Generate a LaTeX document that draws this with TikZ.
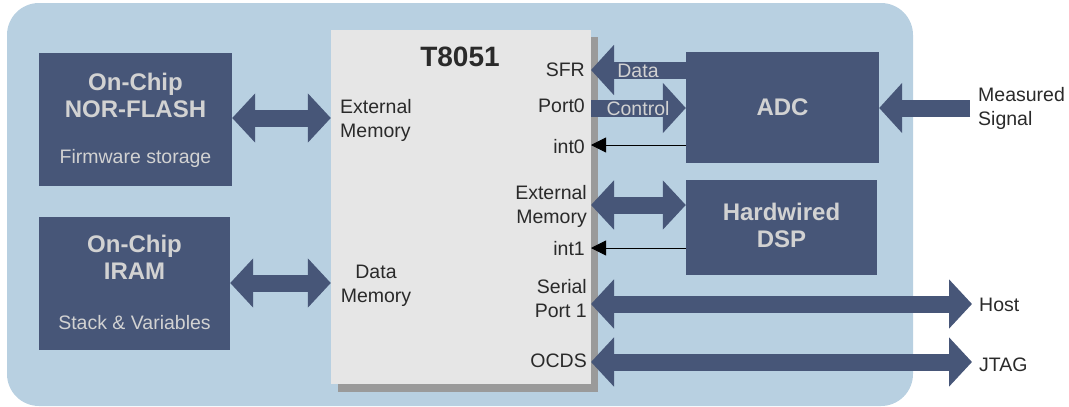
\documentclass[tikz,border=0pt]{standalone}
\usepackage{fontspec}
\setmainfont{Liberation Sans}
\usetikzlibrary{arrows.meta}
\definecolor{bgblue}{HTML}{B8D0E1}
\definecolor{navy}{HTML}{475678}
\definecolor{lightgrey}{HTML}{D2D2D2}
\definecolor{chipfill}{HTML}{E6E6E6}
\definecolor{shadowgrey}{HTML}{9A9A9A}
\definecolor{darktext}{HTML}{2A2A2A}
\tikzset{
  x=1pt, y=-1pt,
  darkbox/.style={draw=none, fill=navy, rectangle, inner sep=0pt},
  boxtitle/.style={text=lightgrey, font=\bfseries\fontsize{24}{27}\selectfont, align=center, inner sep=0pt},
  boxsub/.style={text=lightgrey, font=\fontsize{19.5}{24}\selectfont, inner sep=0pt},
  lbl/.style={text=darktext, font=\fontsize{19.5}{24}\selectfont, inner sep=0pt},
  arrlbl/.style={text=lightgrey, font=\fontsize{19.5}{24}\selectfont, inner sep=0pt},
  fatdbl/.style={draw=navy, line width=17pt, {Triangle[length=23pt,width=48pt]}-{Triangle[length=23pt,width=48pt]}},
  fatone/.style={draw=navy, line width=17pt, -{Triangle[length=23pt,width=49pt]}},
  thinarr/.style={draw=black, line width=0.9pt, -{Triangle[length=15pt,width=15pt]}},
}
\begin{document}
\begin{tikzpicture}
\useasboundingbox (0,0) rectangle (1069,407);
% background panel
\fill[bgblue, rounded corners=32pt] (7,3) rectangle (913,406);
% T8051 chip with shadow
\fill[shadowgrey] (338,37) rectangle (598,392);
\node[rectangle, fill=chipfill, inner sep=0pt, minimum width=260pt, minimum height=354pt] (chip) at (461,207) {};
\node[lbl, font=\bfseries\fontsize{28}{32}\selectfont, anchor=base] (title) at (460,66) {T8051};
% left blocks
\node[darkbox, minimum width=193pt, minimum height=133pt] (flash) at (135.5,119.5) {};
\node[boxtitle] (flasht) at (135.5,95) {On-Chip\\NOR-FLASH};
\node[boxsub, anchor=base] (flashs) at (135.5,163) {Firmware storage};
\node[darkbox, minimum width=191pt, minimum height=133pt] (iram) at (134.5,283.5) {};
\node[boxtitle] (iramt) at (134.5,257) {On-Chip\\IRAM};
\node[boxsub, anchor=base] (irams) at (134.5,329) {Stack \& Variables};
% right blocks
\node[darkbox, minimum width=193pt, minimum height=111pt] (adc) at (782.5,107.5) {};
\node[boxtitle, anchor=base] (adct) at (782.5,115) {ADC};
\node[darkbox, minimum width=191pt, minimum height=95pt] (dsp) at (781.5,227.5) {};
\node[boxtitle] (dspt) at (781.5,225) {Hardwired\\DSP};
% chip labels
\node[lbl, align=left, anchor=west] (extl) at (340,120) {External\\Memory};
\node[lbl, align=center] (datal) at (376,286) {Data\\Memory};
\node[lbl, anchor=base east] (sfr) at (585,76) {SFR};
\node[lbl, anchor=base east] (port0) at (585,112) {Port0};
\node[lbl, anchor=base east] (int0) at (585,153) {int0};
\node[lbl, align=right, anchor=east] (extr) at (587,206) {External\\Memory};
\node[lbl, anchor=base east] (int1) at (585,255) {int1};
\node[lbl, align=right, anchor=east] (serial) at (587,299) {Serial\\Port 1};
\node[lbl, anchor=base east] (ocds) at (587,367) {OCDS};
% outside labels
\node[lbl, align=left, anchor=west] (meas) at (978,108) {Measured\\Signal};
\node[lbl, anchor=base west] (host) at (979,311) {Host};
\node[lbl, anchor=base west] (jtag) at (979,371) {JTAG};
% coordinates on chip edge
\coordinate (cSFR) at (591,70);
\coordinate (cP0) at (591,108);
\coordinate (cI0) at (591,145);
\coordinate (cEM) at (591,205);
\coordinate (cI1) at (591,248);
\coordinate (cSP) at (591,304);
\coordinate (cOC) at (591,362);
\coordinate (hostend) at (972,304);
\coordinate (jtagend) at (972,362);
\coordinate (measstart) at (970,108);
% connectors
\draw[fatdbl] (flash.east |- 0,118) -- (chip.west |- 0,118);
\draw[fatdbl] (iram.east |- 0,283) -- (chip.west |- 0,283);
\draw[fatone] (adc.west |- cSFR) -- (cSFR);
\draw[fatone] (cP0) -- (adc.west |- cP0);
\draw[thinarr] (adc.west |- cI0) -- (cI0);
\draw[fatdbl] (cEM) -- (dsp.west |- cEM);
\draw[thinarr] (dsp.west |- cI1) -- (cI1);
\draw[fatdbl] (cSP) -- (hostend);
\draw[fatdbl] (cOC) -- (jtagend);
\draw[fatone] (measstart) -- (adc.east |- measstart);
\node[arrlbl, anchor=base] (datat) at (638,77) {Data};
\node[arrlbl, anchor=base] (ctrlt) at (638,115) {Control};
\end{tikzpicture}
\end{document}
